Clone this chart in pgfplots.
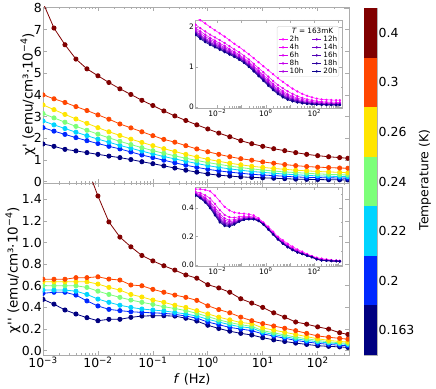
\documentclass[border=0pt]{standalone}
\usepackage{fontspec}
\setmainfont{DejaVu Sans}
\usepackage{pgfplots}
\usepackage{pgfplotstable}
\pgfplotsset{compat=1.18}

\definecolor{t163}{RGB}{0,0,128}
\definecolor{t200}{RGB}{0,40,255}
\definecolor{t220}{RGB}{0,212,255}
\definecolor{t240}{RGB}{124,255,121}
\definecolor{t260}{RGB}{255,229,0}
\definecolor{t300}{RGB}{255,70,0}
\definecolor{t400}{RGB}{128,0,0}
\definecolor{h2}{RGB}{255,0,255}
\definecolor{h4}{RGB}{235,0,245}
\definecolor{h6}{RGB}{215,0,240}
\definecolor{h8}{RGB}{195,0,235}
\definecolor{h10}{RGB}{170,0,225}
\definecolor{h12}{RGB}{140,0,215}
\definecolor{h14}{RGB}{110,0,200}
\definecolor{h16}{RGB}{80,0,180}
\definecolor{h18}{RGB}{45,0,160}
\definecolor{h20}{RGB}{10,0,140}

% chi' vs f, one column per temperature (K)
\pgfplotstableread{
f        T163  T200  T220  T240  T260  T300  T400
0.001    1.74  2.49  2.80  3.14  3.54  4.00  8.25
0.001585 1.63  2.33  2.62  2.94  3.32  3.82  7.08
0.002512 1.49  2.18  2.45  2.74  3.10  3.65  6.31
0.003981 1.42  2.03  2.28  2.55  2.89  3.46  5.65
0.006310 1.34  1.89  2.12  2.37  2.69  3.28  5.20
0.01     1.26  1.76  1.96  2.19  2.49  3.08  4.88
0.01585  1.18  1.63  1.82  2.02  2.30  2.88  4.57
0.02512  1.11  1.51  1.67  1.86  2.13  2.66  4.28
0.03981  1.02  1.37  1.54  1.71  1.96  2.48  4.02
0.06310  0.92  1.23  1.41  1.57  1.81  2.30  3.75
0.1      0.83  1.11  1.28  1.43  1.66  2.12  3.51
0.1585   0.73  0.99  1.16  1.31  1.52  1.95  3.26
0.2512   0.63  0.87  1.05  1.19  1.39  1.82  3.03
0.3981   0.53  0.76  0.94  1.08  1.26  1.66  2.82
0.6310   0.44  0.66  0.84  0.98  1.14  1.51  2.62
1        0.36  0.57  0.74  0.88  1.03  1.38  2.43
1.585    0.30  0.50  0.66  0.80  0.94  1.26  2.24
2.512    0.26  0.44  0.59  0.72  0.85  1.15  2.07
3.981    0.22  0.39  0.53  0.65  0.78  1.06  1.89
6.310    0.20  0.34  0.47  0.59  0.71  0.99  1.75
10       0.18  0.31  0.43  0.54  0.66  0.91  1.63
15.85    0.16  0.28  0.39  0.49  0.61  0.85  1.52
25.12    0.14  0.25  0.35  0.45  0.57  0.79  1.43
39.81    0.12  0.22  0.32  0.42  0.53  0.74  1.34
63.10    0.11  0.20  0.29  0.39  0.50  0.70  1.26
100      0.10  0.19  0.27  0.36  0.47  0.67  1.20
158.5    0.09  0.18  0.25  0.34  0.45  0.65  1.15
251.2    0.085 0.17  0.24  0.32  0.43  0.63  1.11
355      0.08  0.16  0.23  0.31  0.41  0.62  1.08
}\topdata

% chi'' vs f
\pgfplotstableread{
f        T163  T200  T220  T240  T260  T300  T400
0.001    0.474 0.53  0.56  0.60  0.637 0.66  3.5
0.001585 0.43  0.54  0.56  0.60  0.637 0.66  2.9
0.002512 0.376 0.54  0.56  0.60  0.637 0.66  2.4
0.003981 0.339 0.514 0.55  0.60  0.637 0.675 2.0
0.006310 0.305 0.46  0.52  0.585 0.637 0.675 1.70
0.01     0.277 0.413 0.477 0.55  0.616 0.683 1.43
0.01585  0.29  0.382 0.447 0.52  0.585 0.662 1.19
0.02512  0.29  0.37  0.42  0.493 0.56  0.653 1.05
0.03981  0.308 0.36  0.40  0.468 0.52  0.607 0.96
0.06310  0.32  0.354 0.385 0.447 0.496 0.60  0.88
0.1      0.323 0.35  0.376 0.428 0.468 0.567 0.83
0.1585   0.323 0.345 0.367 0.406 0.447 0.54  0.785
0.2512   0.32  0.336 0.354 0.39  0.42  0.514 0.745
0.3981   0.30  0.32  0.339 0.37  0.40  0.493 0.70
0.6310   0.274 0.30  0.32  0.345 0.37  0.465 0.67
1        0.235 0.265 0.29  0.315 0.34  0.415 0.61
1.585    0.205 0.24  0.265 0.285 0.31  0.38  0.58
2.512    0.18  0.215 0.24  0.26  0.285 0.35  0.54
3.981    0.16  0.20  0.22  0.24  0.26  0.31  0.48
6.310    0.145 0.185 0.21  0.225 0.25  0.277 0.44
10       0.12  0.155 0.17  0.185 0.21  0.25  0.40
15.85    0.10  0.135 0.15  0.165 0.19  0.228 0.35
25.12    0.085 0.115 0.13  0.145 0.17  0.207 0.31
39.81    0.07  0.095 0.11  0.125 0.15  0.185 0.265
63.10    0.058 0.08  0.095 0.11  0.13  0.16  0.245
100      0.046 0.068 0.082 0.095 0.11  0.136 0.22
158.5    0.04  0.058 0.072 0.082 0.095 0.124 0.20
251.2    0.035 0.05  0.064 0.073 0.085 0.114 0.166
355      0.03  0.045 0.058 0.068 0.08  0.106 0.15
}\botdata

% inset: chi' at 163 mK after waiting times
\pgfplotstableread{
f        h2    h4    h6    h8    h10   h12   h14   h16   h18   h20
0.001259 2.25  2.06  1.98  1.94  1.90  1.87  1.85  1.84  1.82  1.80
0.001995 2.17  1.97  1.89  1.84  1.80  1.78  1.76  1.74  1.72  1.70
0.003162 2.09  1.89  1.81  1.76  1.72  1.70  1.68  1.66  1.64  1.62
0.005012 2.00  1.81  1.73  1.69  1.65  1.62  1.60  1.59  1.57  1.55
0.007943 1.92  1.74  1.66  1.62  1.59  1.56  1.54  1.52  1.51  1.49
0.01259  1.84  1.67  1.59  1.55  1.52  1.50  1.48  1.46  1.45  1.43
0.01995  1.76  1.60  1.53  1.49  1.46  1.43  1.42  1.40  1.39  1.37
0.03162  1.67  1.52  1.45  1.42  1.39  1.37  1.35  1.34  1.32  1.31
0.05012  1.58  1.44  1.38  1.35  1.32  1.30  1.29  1.28  1.26  1.25
0.07943  1.50  1.37  1.31  1.28  1.25  1.23  1.22  1.21  1.19  1.18
0.1259   1.41  1.28  1.22  1.19  1.17  1.15  1.14  1.13  1.11  1.10
0.1995   1.32  1.19  1.13  1.10  1.07  1.05  1.04  1.03  1.01  1.00
0.3162   1.22  1.08  1.02  0.99  0.96  0.94  0.93  0.92  0.90  0.89
0.5012   1.12  0.97  0.91  0.88  0.85  0.83  0.81  0.80  0.78  0.77
0.7943   1.02  0.87  0.80  0.76  0.73  0.71  0.69  0.68  0.67  0.65
1.259    0.92  0.76  0.69  0.65  0.62  0.59  0.58  0.56  0.55  0.53
1.995    0.82  0.65  0.58  0.54  0.51  0.48  0.47  0.45  0.44  0.42
3.162    0.72  0.55  0.48  0.44  0.41  0.38  0.37  0.35  0.34  0.32
5.012    0.63  0.47  0.40  0.36  0.33  0.30  0.29  0.27  0.26  0.24
7.943    0.54  0.39  0.32  0.29  0.26  0.24  0.22  0.21  0.19  0.18
12.59    0.46  0.33  0.27  0.24  0.21  0.19  0.18  0.17  0.15  0.14
19.95    0.39  0.27  0.22  0.19  0.17  0.155 0.144 0.132 0.121 0.11
31.62    0.33  0.23  0.19  0.16  0.14  0.13  0.12  0.11  0.10  0.09
50.12    0.28  0.19  0.16  0.14  0.12  0.11  0.10  0.091 0.083 0.075
79.43    0.24  0.167 0.135 0.118 0.104 0.093 0.086 0.079 0.072 0.065
125.9    0.21  0.146 0.119 0.104 0.091 0.082 0.076 0.070 0.064 0.058
199.5    0.19  0.132 0.108 0.094 0.083 0.075 0.069 0.064 0.058 0.053
316.2    0.18  0.125 0.102 0.089 0.079 0.071 0.066 0.060 0.055 0.050
501.2    0.175 0.122 0.099 0.086 0.076 0.068 0.063 0.058 0.053 0.048
794.3    0.17  0.118 0.096 0.084 0.074 0.067 0.062 0.057 0.052 0.047
1122     0.17  0.118 0.096 0.084 0.074 0.067 0.062 0.057 0.052 0.046
}\topinset

% inset: chi'' at 163 mK
\pgfplotstableread{
f        h2    h4    h6    h8    h10   h12   h14   h16   h18   h20
0.001259 0.535 0.516 0.508 0.504 0.500 0.497 0.495 0.494 0.492 0.490
0.001995 0.535 0.508 0.496 0.490 0.484 0.480 0.478 0.475 0.473 0.470
0.003162 0.530 0.492 0.476 0.467 0.460 0.454 0.451 0.447 0.444 0.440
0.005012 0.520 0.470 0.448 0.436 0.426 0.419 0.414 0.410 0.405 0.400
0.007943 0.490 0.431 0.406 0.392 0.381 0.372 0.367 0.361 0.356 0.350
0.01259  0.450 0.387 0.360 0.345 0.333 0.324 0.318 0.312 0.306 0.300
0.01995  0.410 0.353 0.329 0.316 0.305 0.297 0.291 0.286 0.280 0.275
0.03162  0.385 0.337 0.316 0.305 0.295 0.288 0.284 0.279 0.275 0.270
0.05012  0.370 0.334 0.319 0.311 0.304 0.299 0.295 0.292 0.288 0.285
0.07943  0.365 0.340 0.329 0.323 0.318 0.315 0.312 0.310 0.307 0.305
0.1259   0.362 0.344 0.336 0.331 0.328 0.325 0.323 0.322 0.320 0.318
0.1995   0.358 0.343 0.336 0.333 0.330 0.328 0.326 0.325 0.323 0.322
0.3162   0.350 0.338 0.333 0.330 0.328 0.326 0.325 0.324 0.323 0.322
0.5012   0.330 0.322 0.318 0.316 0.314 0.313 0.312 0.312 0.311 0.310
0.7943   0.300 0.294 0.291 0.290 0.288 0.287 0.287 0.286 0.286 0.285
1.259    0.270 0.262 0.258 0.256 0.254 0.253 0.252 0.252 0.251 0.250
1.995    0.235 0.227 0.223 0.221 0.219 0.218 0.217 0.217 0.216 0.215
3.162    0.200 0.192 0.188 0.186 0.184 0.183 0.182 0.182 0.181 0.180
5.012    0.175 0.165 0.160 0.158 0.156 0.154 0.153 0.152 0.151 0.150
7.943    0.150 0.140 0.135 0.133 0.131 0.129 0.128 0.127 0.126 0.125
12.59    0.130 0.120 0.115 0.113 0.111 0.109 0.108 0.107 0.106 0.105
19.95    0.110 0.101 0.097 0.095 0.093 0.092 0.091 0.090 0.089 0.088
31.62    0.095 0.087 0.084 0.082 0.081 0.080 0.079 0.078 0.078 0.077
50.12    0.078 0.073 0.070 0.069 0.068 0.067 0.067 0.066 0.066 0.065
79.43    0.063 0.060 0.058 0.057 0.057 0.056 0.056 0.056 0.055 0.055
125.9    0.052 0.047 0.045 0.044 0.043 0.042 0.041 0.041 0.040 0.040
199.5    0.045 0.040 0.037 0.036 0.035 0.034 0.034 0.033 0.033 0.032
316.2    0.040 0.036 0.034 0.033 0.032 0.032 0.031 0.031 0.030 0.030
501.2    0.035 0.032 0.031 0.030 0.030 0.029 0.029 0.029 0.028 0.028
794.3    0.032 0.030 0.029 0.029 0.028 0.028 0.028 0.027 0.027 0.027
1122     0.030 0.028 0.028 0.027 0.027 0.027 0.026 0.026 0.026 0.026
}\botinset

\newcommand{\supr}[1]{\textsuperscript{#1}}
\tikzset{
  ser/.style={color=#1, mark=*, mark size=2.1bp, line width=0.8bp},
  iser/.style={color=#1, mark=*, mark size=0.9bp, line width=0.5bp},
}

\begin{document}
\begin{tikzpicture}
\useasboundingbox (0,0) rectangle (436bp,389bp);

% top panel: chi'
\begin{axis}[scale only axis, anchor=south west, at={(43bp,206bp)},
  width=306bp, height=176bp,
  xmode=log, xmin=0.001, xmax=372,
  xtick={0.001,0.01,0.1,1,10,100}, xticklabels={},
  minor xtick={0.002,0.003,0.004,0.005,0.006,0.007,0.008,0.009,
    0.02,0.03,0.04,0.05,0.06,0.07,0.08,0.09,
    0.2,0.3,0.4,0.5,0.6,0.7,0.8,0.9,
    2,3,4,5,6,7,8,9,20,30,40,50,60,70,80,90,200,300},
  ymin=-0.06, ymax=8.05, ytick={0,1,2,3,4,5,6,7,8},
  yticklabels={0,1,2,3,4,5,6,7,8},
  tick align=inside, major tick length=4bp, minor tick length=2bp,
  axis line style={gray!65, line width=0.9bp},
  tick style={gray!65, line width=0.6bp},
  tick label style={font=\fontsize{12.5}{13}\selectfont},
  yticklabel style={inner xsep=1bp},
  clip marker paths=true]
\addplot[ser=t163] table[x=f, y=T163] {\topdata};
\addplot[ser=t200] table[x=f, y=T200] {\topdata};
\addplot[ser=t220] table[x=f, y=T220] {\topdata};
\addplot[ser=t240] table[x=f, y=T240] {\topdata};
\addplot[ser=t260] table[x=f, y=T260] {\topdata};
\addplot[ser=t300] table[x=f, y=T300] {\topdata};
\addplot[ser=t400] table[x=f, y=T400] {\topdata};
\end{axis}

% bottom panel: chi''
\begin{axis}[scale only axis, anchor=south west, at={(43bp,34bp)},
  width=306bp, height=172bp,
  xmode=log, xmin=0.001, xmax=372,
  xtick={0.001,0.01,0.1,1,10,100},
  xticklabels={10\supr{−3},10\supr{−2},10\supr{−1},10\supr{0},10\supr{1},10\supr{2}},
  minor xtick={0.002,0.003,0.004,0.005,0.006,0.007,0.008,0.009,
    0.02,0.03,0.04,0.05,0.06,0.07,0.08,0.09,
    0.2,0.3,0.4,0.5,0.6,0.7,0.8,0.9,
    2,3,4,5,6,7,8,9,20,30,40,50,60,70,80,90,200,300},
  ymin=-0.04, ymax=1.55, ytick={0,0.2,0.4,0.6,0.8,1.0,1.2,1.4},
  yticklabels={0.0,0.2,0.4,0.6,0.8,1.0,1.2,1.4},
  tick align=inside, major tick length=4bp, minor tick length=2bp,
  axis line style={gray!65, line width=0.9bp},
  tick style={gray!65, line width=0.6bp},
  tick label style={font=\fontsize{12.5}{13}\selectfont},
  yticklabel style={inner xsep=1bp},
  xticklabel style={inner ysep=1.5bp},
  clip marker paths=true]
\addplot[ser=t163] table[x=f, y=T163] {\botdata};
\addplot[ser=t200] table[x=f, y=T200] {\botdata};
\addplot[ser=t220] table[x=f, y=T220] {\botdata};
\addplot[ser=t240] table[x=f, y=T240] {\botdata};
\addplot[ser=t260] table[x=f, y=T260] {\botdata};
\addplot[ser=t300] table[x=f, y=T300] {\botdata};
\addplot[ser=t400] table[x=f, y=T400] {\botdata};
\end{axis}

% top inset with legend
\begin{axis}[scale only axis, anchor=south west, at={(195bp,281bp)},
  width=147bp, height=88bp,
  xmode=log, xmin=0.0012, xmax=1380,
  xtick={0.01,0.1,1,10,100,1000},
  xticklabels={10\supr{−2},,10\supr{0},,10\supr{2},},
  ymin=-0.025, ymax=2.175, ytick={0,1,2}, yticklabels={0,1,2},
  minor ytick={0.5,1.5},
  tick align=inside, major tick length=3bp, minor tick length=1.5bp,
  axis line style={gray!65, line width=0.7bp},
  tick style={gray!65, line width=0.5bp},
  tick label style={font=\fontsize{7.5}{8}\selectfont},
  yticklabel style={inner xsep=1bp},
  xticklabel style={inner ysep=1bp},
  axis background/.style={fill=white},
  clip marker paths=true,
  legend columns=2,
  legend style={at={(0.98,0.93)}, anchor=north east,
    font=\fontsize{7.3}{7.3}\selectfont, draw=gray!30, rounded corners=1.5bp,
    inner sep=1.2bp, row sep=0.2bp, column sep=1.5bp,
    nodes={inner sep=0.4bp},
    /tikz/every even column/.append style={column sep=8bp}},
  legend cell align=left,
  legend image code/.code={\draw[mark repeat=2,mark phase=2,#1]
    plot coordinates {(0bp,0bp) (4.5bp,0bp) (9bp,0bp)};}]
\addplot[iser=h2, forget plot] table[x=f, y=h2] {\topinset};
\addplot[iser=h4, forget plot] table[x=f, y=h4] {\topinset};
\addplot[iser=h6, forget plot] table[x=f, y=h6] {\topinset};
\addplot[iser=h8, forget plot] table[x=f, y=h8] {\topinset};
\addplot[iser=h10, forget plot] table[x=f, y=h10] {\topinset};
\addplot[iser=h12, forget plot] table[x=f, y=h12] {\topinset};
\addplot[iser=h14, forget plot] table[x=f, y=h14] {\topinset};
\addplot[iser=h16, forget plot] table[x=f, y=h16] {\topinset};
\addplot[iser=h18, forget plot] table[x=f, y=h18] {\topinset};
\addplot[iser=h20, forget plot] table[x=f, y=h20] {\topinset};
\addlegendimage{empty legend}
\addlegendentry{\makebox[0pt][l]{\hspace{2bp}\textit{T} = 163mK}}
\addlegendimage{empty legend}\addlegendentry{}
\addlegendimage{iser=h2}\addlegendentry{2h}
\addlegendimage{iser=h12}\addlegendentry{12h}
\addlegendimage{iser=h4}\addlegendentry{4h}
\addlegendimage{iser=h14}\addlegendentry{14h}
\addlegendimage{iser=h6}\addlegendentry{6h}
\addlegendimage{iser=h16}\addlegendentry{16h}
\addlegendimage{iser=h8}\addlegendentry{8h}
\addlegendimage{iser=h18}\addlegendentry{18h}
\addlegendimage{iser=h10}\addlegendentry{10h}
\addlegendimage{iser=h20}\addlegendentry{20h}
\end{axis}

% bottom inset
\begin{axis}[scale only axis, anchor=south west, at={(195bp,123bp)},
  width=147bp, height=79bp,
  xmode=log, xmin=0.0012, xmax=1380,
  xtick={0.01,0.1,1,10,100,1000},
  xticklabels={10\supr{−2},,10\supr{0},,10\supr{2},},
  ymin=-0.007, ymax=0.55, ytick={0,0.2,0.4}, yticklabels={0.0,0.2,0.4},
  minor ytick={0.1,0.3,0.5},
  tick align=inside, major tick length=3bp, minor tick length=1.5bp,
  axis line style={gray!65, line width=0.7bp},
  tick style={gray!65, line width=0.5bp},
  tick label style={font=\fontsize{7.5}{8}\selectfont},
  yticklabel style={inner xsep=1bp},
  xticklabel style={inner ysep=1bp},
  axis background/.style={fill=white},
  clip marker paths=true]
\addplot[iser=h2] table[x=f, y=h2] {\botinset};
\addplot[iser=h4] table[x=f, y=h4] {\botinset};
\addplot[iser=h6] table[x=f, y=h6] {\botinset};
\addplot[iser=h8] table[x=f, y=h8] {\botinset};
\addplot[iser=h10] table[x=f, y=h10] {\botinset};
\addplot[iser=h12] table[x=f, y=h12] {\botinset};
\addplot[iser=h14] table[x=f, y=h14] {\botinset};
\addplot[iser=h16] table[x=f, y=h16] {\botinset};
\addplot[iser=h18] table[x=f, y=h18] {\botinset};
\addplot[iser=h20] table[x=f, y=h20] {\botinset};
\end{axis}

% discrete colour bar
\begin{axis}[scale only axis, anchor=south west, at={(364bp,34bp)},
  width=13bp, height=347bp, xmin=0, xmax=1, ymin=0, ymax=7,
  xtick=\empty, ytick={0.5,1.5,2.5,3.5,4.5,5.5,6.5},
  yticklabels={0.163,0.2,0.22,0.24,0.26,0.3,0.4},
  yticklabel pos=right, major tick length=0pt,
  yticklabel style={inner xsep=1.5bp, font=\fontsize{12.5}{13}\selectfont},
  axis line style={gray!60, line width=0.5bp}]
\fill[t163] (axis cs:0,0) rectangle (axis cs:1,1);
\fill[t200] (axis cs:0,1) rectangle (axis cs:1,2);
\fill[t220] (axis cs:0,2) rectangle (axis cs:1,3);
\fill[t240] (axis cs:0,3) rectangle (axis cs:1,4);
\fill[t260] (axis cs:0,4) rectangle (axis cs:1,5);
\fill[t300] (axis cs:0,5) rectangle (axis cs:1,6);
\fill[t400] (axis cs:0,6) rectangle (axis cs:1,7);
\end{axis}

\node[rotate=90, font=\fontsize{13.5}{14}\selectfont] at (28bp,295bp)
  {χ\textquotesingle{} (emu/cm³·10\supr{−4})};
\node[rotate=90, font=\fontsize{13.5}{14}\selectfont] at (13bp,119bp)
  {χ\textquotesingle\textquotesingle{} (emu/cm³·10\supr{−4})};
\node[font=\fontsize{13}{14}\selectfont] at (192bp,10bp) {\textit{f} (Hz)};
\node[rotate=90, font=\fontsize{12.5}{13}\selectfont] at (425bp,209bp)
  {Temperature (K)};
\end{tikzpicture}
\end{document}
